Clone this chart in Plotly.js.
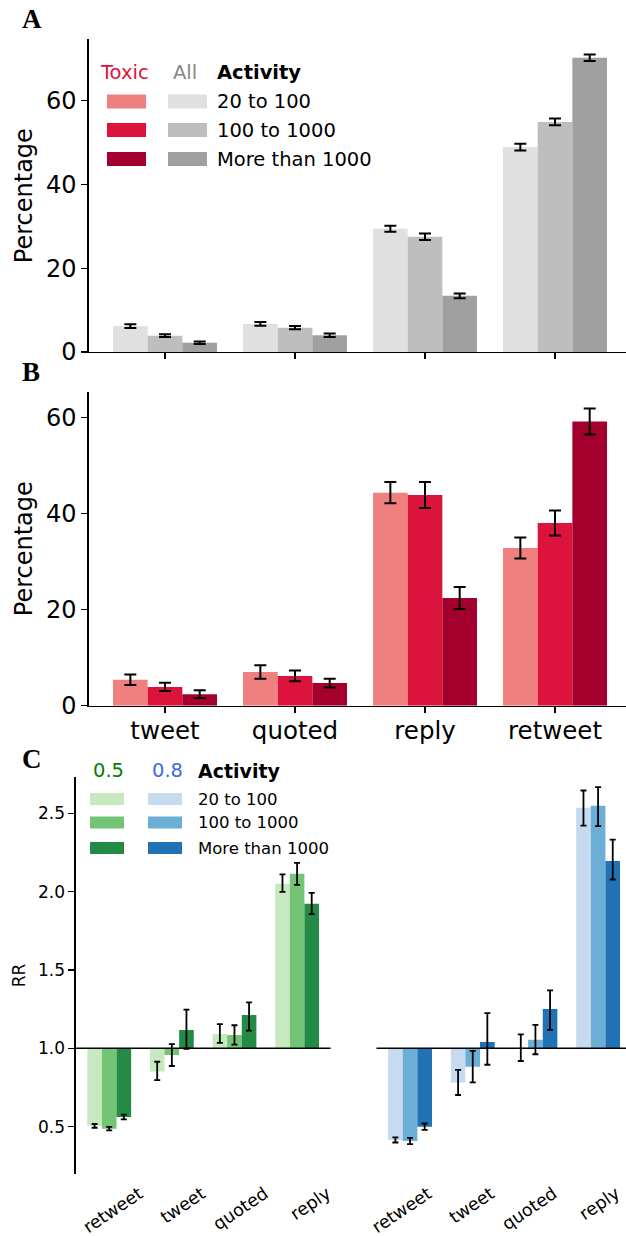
<!DOCTYPE html>
<html>
<head>
<meta charset="utf-8">
<script src="https://cdn.plot.ly/plotly-3.0.1.min.js"></script>
<style>html,body{margin:0;padding:0;background:#fff;}#chart{width:626px;height:1236px;}</style>
</head>
<body>
<div id="chart"></div>
<script>
// ---------- DATA ----------
const typesAB = ['tweet', 'quoted', 'reply', 'retweet'];
const typesC = ['retweet', 'tweet', 'quoted', 'reply'];
const activityLevels = ['20 to 100', '100 to 1000', 'More than 1000'];

// Panel A: all content, percentage by activity
const allLow = [6.2, 6.7, 29.4, 48.9];
const allMid = [3.9, 5.8, 27.5, 54.9];
const allHigh = [2.2, 4.0, 13.4, 70.2];
const allLowErr = [0.45, 0.45, 0.7, 0.8];
const allMidErr = [0.35, 0.4, 0.8, 0.8];
const allHighErr = [0.3, 0.4, 0.55, 0.8];

// Panel B: toxic content, percentage by activity
const toxLow = [5.4, 7.0, 44.3, 32.8];
const toxMid = [3.9, 6.2, 43.8, 38.0];
const toxHigh = [2.4, 4.7, 22.4, 59.1];
const toxLowErr = [1.1, 1.4, 2.2, 2.2];
const toxMidErr = [0.85, 1.1, 2.7, 2.6];
const toxHighErr = [0.8, 0.9, 2.3, 2.7];

// Panel C: relative risk, threshold 0.5 (green)
const rr05Low = [0.505, 0.852, 1.092, 2.05];
const rr05Mid = [0.487, 0.957, 1.085, 2.113];
const rr05High = [0.562, 1.117, 1.213, 1.922];
const rr05LowUp = [0.012, 0.062, 0.062, 0.06];
const rr05LowDn = [0.012, 0.055, 0.058, 0.052];
const rr05MidUp = [0.011, 0.07, 0.062, 0.07];
const rr05MidDn = [0.011, 0.07, 0.062, 0.07];
const rr05HighUp = [0.015, 0.13, 0.08, 0.07];
const rr05HighDn = [0.015, 0.12, 0.1, 0.066];

// Panel C: relative risk, threshold 0.8 (blue)
const rr08Low = [0.415, 0.782, 1.004, 2.535];
const rr08Mid = [0.408, 0.883, 1.054, 2.547];
const rr08High = [0.500, 1.040, 1.251, 2.195];
const rr08LowUp = [0.016, 0.08, 0.085, 0.11];
const rr08LowDn = [0.016, 0.08, 0.085, 0.114];
const rr08MidUp = [0.02, 0.1, 0.095, 0.12];
const rr08MidDn = [0.02, 0.1, 0.092, 0.13];
const rr08HighUp = [0.02, 0.185, 0.118, 0.137];
const rr08HighDn = [0.02, 0.145, 0.134, 0.118];

// ---------- STYLE ----------
const W = 626, H = 1236;
const FONT = 'DejaVu Sans';
const greys = ['#e0e0e0', '#bebebe', '#a0a0a0'];
const reds = ['#f08080', '#dc143c', '#a3002d'];
const greens = ['#c7e9c0', '#74c476', '#238b45'];
const blues = ['#c6dbef', '#6baed6', '#2171b5'];
const px = v => v / W;
const py = v => 1 - v / H;

const traces = [];
function addPct(vals, errs, color, k, xa, ya) {
  const w = 0.8 / 3;
  traces.push({
    type: 'bar', x: typesAB, y: vals, xaxis: xa, yaxis: ya,
    width: w, offset: -0.4 + k * w,
    marker: {color: color, line: {width: 0}},
    error_y: {type: 'data', array: errs, visible: true, color: '#000', thickness: 2, width: 6},
    showlegend: false, hoverinfo: 'skip'
  });
}
addPct(allLow, allLowErr, greys[0], 0, 'x', 'y');
addPct(allMid, allMidErr, greys[1], 1, 'x', 'y');
addPct(allHigh, allHighErr, greys[2], 2, 'x', 'y');
addPct(toxLow, toxLowErr, reds[0], 0, 'x2', 'y2');
addPct(toxMid, toxMidErr, reds[1], 1, 'x2', 'y2');
addPct(toxHigh, toxHighErr, reds[2], 2, 'x2', 'y2');

function addRR(vals, up, dn, color, k, xa, ya) {
  const w = 0.7 / 3;
  traces.push({
    type: 'bar', x: typesC, y: vals.map(v => v - 1), base: 1, xaxis: xa, yaxis: ya,
    width: w, offset: -0.35 + k * w,
    marker: {color: color, line: {width: 0}},
    error_y: {type: 'data', symmetric: false, array: up, arrayminus: dn, visible: true, color: '#000', thickness: 1.8, width: 3},
    showlegend: false, hoverinfo: 'skip'
  });
}
addRR(rr05Low, rr05LowUp, rr05LowDn, greens[0], 0, 'x3', 'y3');
addRR(rr05Mid, rr05MidUp, rr05MidDn, greens[1], 1, 'x3', 'y3');
addRR(rr05High, rr05HighUp, rr05HighDn, greens[2], 2, 'x3', 'y3');
addRR(rr08Low, rr08LowUp, rr08LowDn, blues[0], 0, 'x4', 'y4');
addRR(rr08Mid, rr08MidUp, rr08MidDn, blues[1], 1, 'x4', 'y4');
addRR(rr08High, rr08HighUp, rr08HighDn, blues[2], 2, 'x4', 'y4');

const axLine = {showline: true, linecolor: '#000', linewidth: 1.3, ticks: 'outside', ticklen: 6, tickwidth: 1.3, tickcolor: '#000', zeroline: false, showgrid: false};

const annotations = [];
const shapes = [];
function txt(t, x, y, size, color, bold, anchor, family) {
  annotations.push({text: bold ? '<b>' + t + '</b>' : t, x: px(x), y: py(y), xref: 'paper', yref: 'paper',
    xanchor: anchor || 'left', yanchor: 'middle', showarrow: false,
    font: {family: family || FONT, size: size, color: color}});
}
function swatch(x0, x1, yc, h, color) {
  shapes.push({type: 'rect', xref: 'paper', yref: 'paper', x0: px(x0), x1: px(x1), y0: py(yc - h / 2), y1: py(yc + h / 2),
    fillcolor: color, line: {width: 0}});
}
// panel letters
txt('A', 32, 19, 27, '#000', true, 'center', 'Liberation Serif');
txt('B', 31, 372, 27, '#000', true, 'center', 'Liberation Serif');
txt('C', 32, 759, 27, '#000', true, 'center', 'Liberation Serif');

// legend A
txt('Toxic', 98, 72.5, 19.5, '#dc143c', false);
txt('All', 171, 72.5, 19.5, '#888888', false);
txt('Activity', 215, 72.5, 19.5, '#000', true);
const rowsA = [101.5, 130, 159];
rowsA.forEach((yc, i) => {
  swatch(107, 146, yc, 14, reds[i]);
  swatch(168, 207, yc, 14, greys[i]);
  txt(activityLevels[i], 215, yc + 0.5, 19.5, '#000', false);
});
// legend C
txt('0.5', 91, 771, 19.5, '#008000', false);
txt('0.8', 150, 771, 19.5, '#4169e1', false);
txt('Activity', 196, 771, 19, '#000', true);
const rowsC = [799, 822.5, 848];
rowsC.forEach((yc, i) => {
  swatch(90, 124, yc, 12, greens[i]);
  swatch(148, 182, yc, 12, blues[i]);
  txt(activityLevels[i], 196, yc, 16.5, '#000', false);
});
// reference lines at RR = 1
shapes.push({type: 'line', xref: 'x3 domain', yref: 'y3', x0: 0, x1: 1, y0: 1, y1: 1, line: {color: '#000', width: 1.6}, layer: 'above'});
shapes.push({type: 'line', xref: 'x4 domain', yref: 'y4', x0: 0, x1: 1, y0: 1, y1: 1, line: {color: '#000', width: 1.6}, layer: 'above'});

const layout = {
  width: W, height: H,
  margin: {l: 0, r: 0, t: 0, b: 0},
  paper_bgcolor: '#fff', plot_bgcolor: '#fff',
  barmode: 'overlay',
  font: {family: FONT, color: '#000'},
  xaxis: Object.assign({}, axLine, {domain: [px(88.7), 1], anchor: 'y', range: [-0.587, 3.546], type: 'category', categoryorder: 'array', categoryarray: typesAB, showticklabels: false}),
  yaxis: Object.assign({}, axLine, {domain: [py(352), py(39.3)], anchor: 'x', range: [0, 74.6], tickvals: [0, 20, 40, 60], tickfont: {size: 24},
    title: {text: 'Percentage', font: {size: 24}, standoff: 6}}),
  xaxis2: Object.assign({}, axLine, {domain: [px(88.7), 1], anchor: 'y2', range: [-0.587, 3.546], type: 'category', categoryorder: 'array', categoryarray: typesAB, tickfont: {size: 24.5}, ticklabelstandoff: -3}),
  yaxis2: Object.assign({}, axLine, {domain: [py(705.7), py(391.7)], anchor: 'x2', range: [0, 65.3], tickvals: [0, 20, 40, 60], tickfont: {size: 24},
    title: {text: 'Percentage', font: {size: 24}, standoff: 6}}),
  xaxis3: {domain: [px(75.7), px(330.6)], anchor: 'y3', range: [-0.535, 3.535], type: 'category', categoryorder: 'array', categoryarray: typesC,
    showline: false, ticks: '', showgrid: false, zeroline: false, tickangle: -34, tickfont: {size: 17.5}, ticklabelshift: 30, ticklabelstandoff: 5},
  yaxis3: Object.assign({}, axLine, {domain: [py(1174.3), py(776.7)], anchor: 'x3', range: [0.196, 2.733], tickvals: [0.5, 1, 1.5, 2, 2.5], ticktext: ['0.5', '1.0', '1.5', '2.0', '2.5'], tickfont: {size: 17},
    title: {text: 'RR', font: {size: 17}, standoff: 8}}),
  xaxis4: {domain: [px(376.5), 1], anchor: 'y4', range: [-0.535, 3.445], type: 'category', categoryorder: 'array', categoryarray: typesC,
    showline: false, ticks: '', showgrid: false, zeroline: false, tickangle: -34, tickfont: {size: 17.5}, ticklabelshift: 18, ticklabelstandoff: 5},
  yaxis4: {domain: [py(1174.3), py(776.7)], anchor: 'x4', range: [0.196, 2.733], visible: false, showgrid: false, zeroline: false},
  annotations: annotations,
  shapes: shapes
};

Plotly.newPlot('chart', traces, layout, {displayModeBar: false, staticPlot: true});
</script>
</body>
</html>
